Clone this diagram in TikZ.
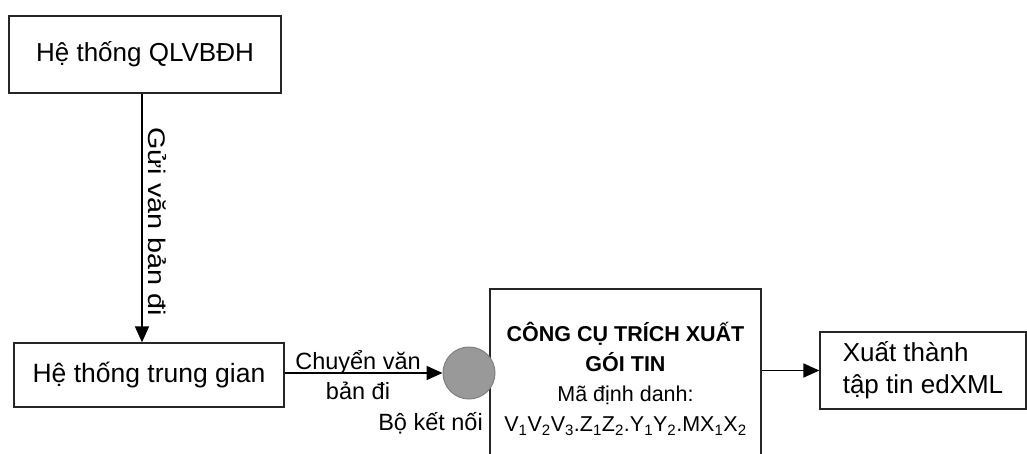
\documentclass[tikz,border=0pt]{standalone}
\usepackage{fontspec}
\setmainfont{Liberation Sans}
\usetikzlibrary{arrows.meta}
\tikzset{
  box/.style={draw=black!85, line width=1.3pt, fill=white, inner sep=0pt},
  arr/.style={line width=1.7pt, -{Triangle[length=16pt,width=14pt]}},
  lbl/.style={inner sep=0pt, font=\fontsize{23.5}{30}\selectfont}
}
\begin{document}
\begin{tikzpicture}[x=1pt,y=1pt]
\useasboundingbox (0,0) rectangle (1027,-453);
\node[box, minimum width=272pt, minimum height=77pt, font=\fontsize{26}{30}\selectfont] (b1) at (145,-54.5) {Hệ thống QLVBĐH};
\node[box, minimum width=270pt, minimum height=64pt, font=\fontsize{26.5}{30}\selectfont] (b2) at (149,-375) {Hệ thống trung gian};
\node[box, minimum width=271pt, minimum height=180pt, align=center, font=\fontsize{21.5}{30}\selectfont] (b3) at (625.5,-379)
  {\textbf{CÔNG CỤ TRÍCH XUẤT}\\ \textbf{GÓI TIN}\\ Mã định danh:\\
   V\textsubscript{1}V\textsubscript{2}V\textsubscript{3}.Z\textsubscript{1}Z\textsubscript{2}.Y\textsubscript{1}Y\textsubscript{2}.MX\textsubscript{1}X\textsubscript{2}};
\node[circle, draw=black!50, fill=black!40, line width=1pt, minimum size=52pt, inner sep=0pt] (c) at (469,-373) {};
\node[box, minimum width=206pt, minimum height=77pt, align=left, font=\fontsize{26}{32}\selectfont] (b4) at (923,-370.5) {Xuất thành\\tập tin edXML};
\coordinate (ax) at (142,0);
\draw[arr] (b1.south -| ax) -- (b2.north -| ax);
\node[lbl, rotate=-90, anchor=south, font=\fontsize{24}{26}\selectfont] (l1) at (148,-221.5) {\scalebox{1.2}[1]{Gửi văn bản đi}};
\draw[arr] (b2.east |- c.west) -- (c.west);
\node[lbl, align=center] (l2) at (358,-375) {Chuyển văn\\bản đi};
\node[lbl] (l3) at (430.5,-423) {Bộ kết nối};
\draw[arr] (b3.east |- b4.west) -- (b4.west);
\end{tikzpicture}
\end{document}
